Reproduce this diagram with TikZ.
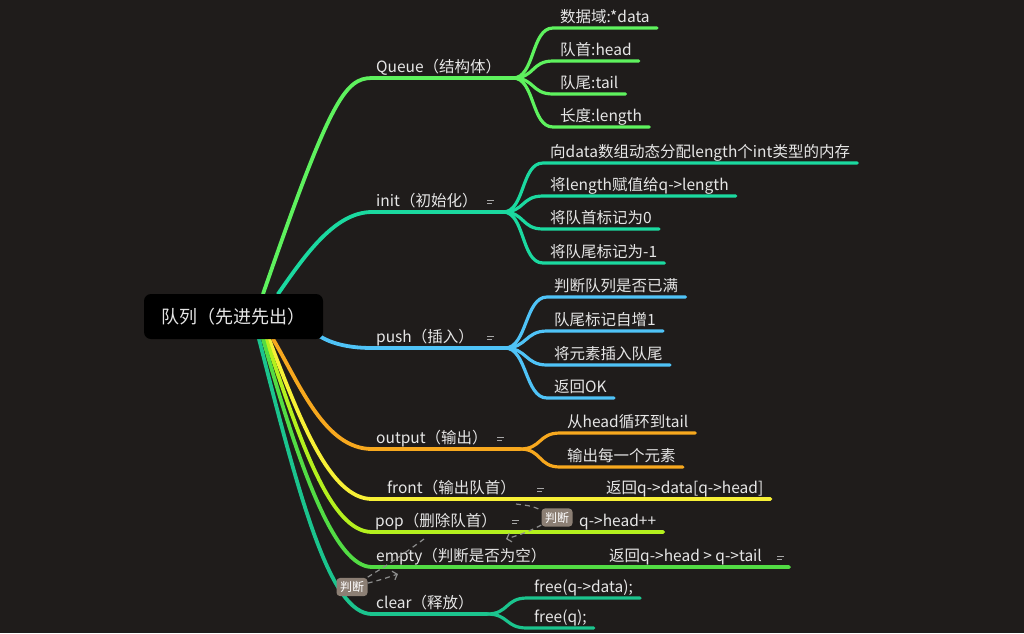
\documentclass[tikz,border=0pt]{standalone}
\usepackage{fontspec}
\setmainfont{Noto Sans CJK SC}
\usetikzlibrary{arrows.meta}

\definecolor{bgdark}{HTML}{1F1C1B}
\definecolor{txtgray}{HTML}{E6E6E6}
\definecolor{cqueue}{HTML}{5EF25E}
\definecolor{cinit}{HTML}{1BD9A0}
\definecolor{cpush}{HTML}{4FC3F7}
\definecolor{coutput}{HTML}{F7A81E}
\definecolor{cfront}{HTML}{F7F036}
\definecolor{cpop}{HTML}{B4F01E}
\definecolor{cempty}{HTML}{52DC44}
\definecolor{cclear}{HTML}{1BC48E}
\definecolor{relgray}{HTML}{8E8E8E}
\definecolor{tagfill}{HTML}{8C7F74}
\definecolor{memogray}{HTML}{A8A8A8}

\begin{document}
\begin{tikzpicture}[x=1pt,y=-1pt,
    branch/.style={draw=#1,line width=3.8pt,line cap=round},
    twig/.style={draw=#1,line width=3.2pt,line cap=round},
    lbl/.style={text=txtgray,font=\fontsize{15.5}{18}\selectfont,inner xsep=7pt,inner ysep=2.5pt,text height=12pt,text depth=3pt,anchor=south west},
    rel/.style={draw=relgray,line width=1.2pt,dash pattern=on 5pt off 4pt},
    tag/.style={fill=tagfill,rounded corners=3.5pt,text=white,font=\fontsize{12}{13}\selectfont,inner xsep=3.5pt,inner ysep=3.5pt},
    memo/.pic={\fill[memogray] (-3.5,-2.5) rectangle (3.5,-0.7); \fill[memogray] (-3.5,0.5) rectangle (1.5,2.3);}]
    \useasboundingbox (0,0) rectangle (1024,633);
    \fill[bgdark] (0,0) rectangle (1024,633);

    \node[lbl] (queue) at (369,78) {Queue（结构体）};
    \node[lbl] (init) at (369,212) {init（初始化）};
    \node[lbl] (push) at (369,348) {push（插入）};
    \node[lbl] (output) at (369,449) {output（输出）};
    \node[lbl] (front) at (380,499) {front（输出队首）};
    \node[lbl] (pop) at (368,532) {pop（删除队首）};
    \node[lbl] (empty) at (369,567) {empty（判断是否为空）};
    \node[lbl] (clear) at (369,614) {clear（释放）};

    \node[lbl] (frontkid) at (599,499) {返回q->data[q->head]};
    \node[lbl] (popkid) at (572,532) {q->head++};
    \node[lbl] (emptykid) at (602,567) {返回q->head > q->tail};

    \coordinate (qfork) at (513,78);
    \coordinate (ifork) at (503,212);
    \coordinate (pfork) at (505,348);
    \coordinate (ofork) at (520,449);
    \coordinate (cfork) at (487,614);

    \draw[branch=cqueue] (263,294) .. controls (330,100) and (345,78) .. (372,78) -- (qfork);
    \draw[branch=cinit] (278,294) .. controls (305,255) and (335,212) .. (372,212) -- (ifork);
    \draw[branch=cpush] (305,322) .. controls (318,342) and (345,348) .. (372,348) -- (pfork);
    \draw[branch=coutput] (273,339) .. controls (300,385) and (325,449) .. (372,449) -- (ofork);
    \draw[branch=cfront] (269,339) .. controls (300,420) and (330,499) .. (372,499) -- (frontkid.south east);
    \draw[branch=cpop] (266,339) .. controls (300,440) and (330,532) .. (372,532) -- (popkid.south east);
    \draw[branch=cempty] (263,339) .. controls (300,470) and (335,567) .. (372,567) -- ([xshift=20pt]emptykid.south east);
    \draw[branch=cclear] (259,339) .. controls (300,500) and (330,614) .. (372,614) -- (cfork);

    \foreach \nm/\y/\t in {qdata/28/{数据域:*data}, qhead/61/{队首:head}, qtail/94/{队尾:tail}, qlen/127/{长度:length}} {
        \node[lbl] (\nm) at (553,\y) {\t};
        \draw[twig=cqueue] (qfork) .. controls +(22,0) and +(-22,0) .. (\nm.south west) -- (\nm.south east);
    }
    \foreach \nm/\y/\t in {ialloc/163/{向data数组动态分配length个int类型的内存}, ilen/196/{将length赋值给q->length}, ihead/229/{将队首标记为0}, itail/263/{将队尾标记为-1}} {
        \node[lbl] (\nm) at (543,\y) {\t};
        \draw[twig=cinit] (ifork) .. controls +(22,0) and +(-22,0) .. (\nm.south west) -- (\nm.south east);
    }
    \foreach \nm/\y/\t in {pfull/297/{判断队列是否已满}, pinc/331/{队尾标记自增1}, pput/365/{将元素插入队尾}, pok/398/{返回OK}} {
        \node[lbl] (\nm) at (547,\y) {\t};
        \draw[twig=cpush] (pfork) .. controls +(22,0) and +(-22,0) .. (\nm.south west) -- (\nm.south east);
    }
    \foreach \nm/\y/\t in {oloop/433/{从head循环到tail}, oeach/467/{输出每一个元素}} {
        \node[lbl] (\nm) at (560,\y) {\t};
        \draw[twig=coutput] (ofork) .. controls +(22,0) and +(-22,0) .. (\nm.south west) -- (\nm.south east);
    }
    \foreach \nm/\y/\t in {cdata/598/{free(q->data);}, cq/628/{free(q);}} {
        \node[lbl] (\nm) at (527,\y) {\t};
        \draw[twig=cclear] (cfork) .. controls +(22,0) and +(-22,0) .. (\nm.south west) -- (\nm.south east);
    }

    \node[fill=black,rounded corners=7pt,minimum width=179pt,minimum height=45pt,text=txtgray,font=\fontsize{18}{20}\selectfont] (root) at (233.5,316.5) {队列（先进先出）};

    \pic at (490,202) {memo};
    \pic at (490,338) {memo};
    \pic at (500,439) {memo};
    \pic at (540,490) {memo};
    \pic at (515,522) {memo};
    \pic at (780,558) {memo};

    \node[tag] (judge1) at (557,517.5) {判断};
    \node[tag] (judge2) at (352,587) {判断};
    \coordinate (r1a) at (516,504);
    \coordinate (r1b) at (506,539);
    \coordinate (r2a) at (424,539);
    \coordinate (r2b) at (398,574);
    \draw[rel] (r1a) .. controls (532,506) .. (judge1);
    \draw[rel,-{Straight Barb[length=4pt,width=9pt]}] (judge1) .. controls (525,533) .. (r1b);
    \draw[rel] (r2a) .. controls (395,560) .. (judge2);
    \draw[rel,-{Straight Barb[length=4pt,width=9pt]}] (judge2) .. controls (380,580) .. (r2b);
\end{tikzpicture}
\end{document}
